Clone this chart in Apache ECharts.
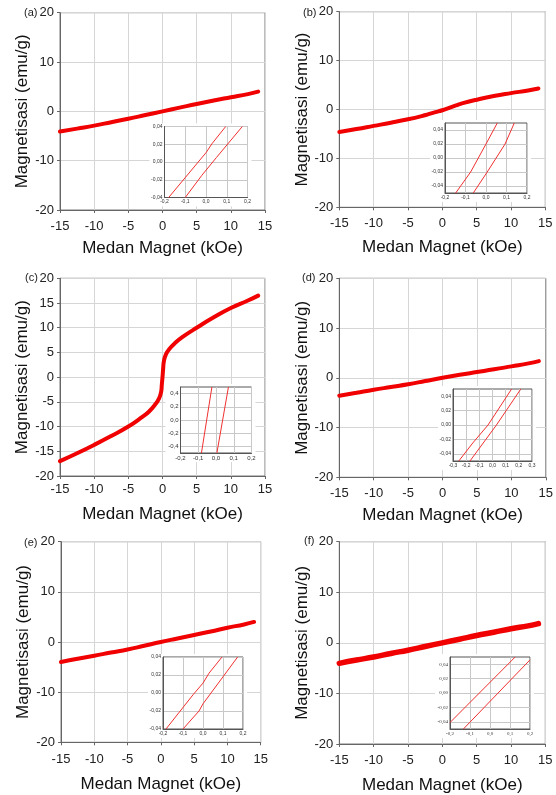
<!DOCTYPE html>
<html><head><meta charset="utf-8">
<script src="https://cdn.jsdelivr.net/npm/echarts@6/dist/echarts.min.js"></script>
<style>html,body{margin:0;padding:0;background:#fff}#c{width:556px;height:795px}</style>
</head><body><div id="c"></div>
<script>
// ---------- DATA ----------
const panelLabels = ['(a)', '(b)', '(c)', '(d)', '(e)', '(f)'];
const xTitle = 'Medan Magnet (kOe)';
const yTitle = 'Magnetisasi (emu/g)';

const H = [-15, -12.5, -10, -7.5, -5, -2.5, 0, 2.5, 5, 7.5, 10, 12.5, 14];
const M_a = [-4.1, -3.5, -2.9, -2.2, -1.5, -0.75, 0, 0.75, 1.5, 2.2, 2.85, 3.5, 4.0];
const H_b = [-15, -12.5, -10, -7.5, -5, -3, -2, -1, 0, 1, 2, 3, 5, 7.5, 10, 12.5, 14];
const M_b = [-4.6, -4.0, -3.35, -2.7, -2.0, -1.35, -0.95, -0.55, -0.15, 0.35, 0.85, 1.3, 2.0, 2.75, 3.35, 3.9, 4.3];
const H_c = [-15, -12.5, -10, -7.5, -5, -3, -2, -1, -0.5, -0.2, -0.1, 0, 0.1, 0.2, 0.5, 1, 2, 3, 5, 7.5, 10, 12.5, 14];
const M_c = [-17, -15.4, -13.7, -11.9, -10, -8.1, -7, -5.4, -4.3, -3, -1.5, 0, 1.8, 3.2, 4.6, 5.7, 7.1, 8.2, 10, 12.1, 14, 15.5, 16.5];
const M_d = [-3.6, -3.0, -2.4, -1.85, -1.3, -0.65, 0, 0.6, 1.15, 1.7, 2.3, 2.9, 3.35];
const M_e = [-4.0, -3.35, -2.75, -2.1, -1.5, -0.75, 0, 0.7, 1.4, 2.1, 2.85, 3.5, 4.0];
const M_f = [-4.05, -3.4, -2.8, -2.1, -1.45, -0.72, 0, 0.72, 1.45, 2.1, 2.8, 3.35, 3.8];

// inset (zoom near origin) branches: [H kOe, M emu/g]
const insetA_left  = [[-0.18, -0.04], [0.0, 0.0105], [0.03, 0.021], [0.095, 0.04]];
const insetA_right = [[-0.1, -0.04], [-0.02, -0.015], [0.05, 0.005], [0.175, 0.04]];
const insetB_left  = [[-0.148, -0.05], [-0.075, -0.02], [0.0, 0.02], [0.055, 0.05]];
const insetB_right = [[-0.062, -0.05], [0.006, -0.02], [0.093, 0.02], [0.138, 0.05]];
const insetC_left  = [[-0.082, -0.5], [-0.023, 0.5]];
const insetC_right = [[0.005, -0.5], [0.07, 0.5]];
const insetD_left  = [[-0.256, -0.05], [-0.15, -0.025], [-0.034, 0.0], [0.145, 0.05]];
const insetD_right = [[-0.171, -0.05], [0.03, 0.0], [0.215, 0.05]];
const insetE_left  = [[-0.185, -0.04], [-0.05, -0.002], [0.0, 0.011], [0.03, 0.022], [0.095, 0.04]];
const insetE_right = [[-0.1, -0.04], [-0.02, -0.02], [0.0, -0.012], [0.1, 0.018], [0.173, 0.04]];
const insetF_left  = [[-0.2, -0.041], [0.126, 0.05]];
const insetF_right = [[-0.133, -0.05], [0.2, 0.046]];

const insetXTicks_02 = [-0.2, -0.1, 0, 0.1, 0.2];
const insetXTicks_03 = [-0.3, -0.2, -0.1, 0, 0.1, 0.2, 0.3];
const insetYTicks_004 = [-0.04, -0.02, 0, 0.02, 0.04];
const insetYTicks_04 = [-0.4, -0.2, 0, 0.2, 0.4];

// ---------- LAYOUT / STYLE ----------
const mainSeries = [
  {h: H, m: M_a}, {h: H_b, m: M_b}, {h: H_c, m: M_c},
  {h: H, m: M_d}, {h: H, m: M_e}, {h: H, m: M_f}
];
const insetSeries = [
  [insetA_left, insetA_right], [insetB_left, insetB_right], [insetC_left, insetC_right],
  [insetD_left, insetD_right], [insetE_left, insetE_right], [insetF_left, insetF_right]
];
const panels = [
  {main: [60, 12.7, 205, 197.3], yInt: 10, lm: 10, ng: 30, lab: [24, 7], lw: 4,
   inset: [164.5, 126.5, 83, 71], ix: [-0.2, 0.2], iy: [-0.04, 0.04, insetYTicks_004, 2], ifs: 5},
  {main: [339.3, 11.7, 206, 195.6], yInt: 10, lm: 10, ng: 32, lab: [303, 7], lw: 4,
   inset: [445, 123, 82, 70], ix: [-0.2, 0.2], iy: [-0.05, 0.05, insetYTicks_004, 2], ifs: 5},
  {main: [60, 278.3, 205, 197.7], yInt: 5, lm: 7, ng: 30, lab: [25, 272], lw: 4,
   inset: [180.5, 387, 71, 66], ix: [-0.2, 0.2], iy: [-0.5, 0.5, insetYTicks_04, 1], ifs: 6},
  {main: [339.3, 278.3, 207.4, 199], yInt: 10, lm: 10, ng: 30, lab: [302, 272], lw: 4,
   inset: [453, 389, 79, 72], ix: [-0.3, 0.3], iy: [-0.05, 0.05, insetYTicks_004, 2], ifs: 5},
  {main: [61, 541.7, 199.7, 200.6], yInt: 10, lm: 11, ng: 34, lab: [24, 537], lw: 4,
   inset: [163, 657, 80, 72], ix: [-0.2, 0.2], iy: [-0.04, 0.04, insetYTicks_004, 2], ifs: 5},
  {main: [339.3, 541.7, 206, 202.3], yInt: 10, lm: 10, ng: 33, lab: [304, 535], lw: 5.5,
   inset: [450, 657, 80, 72], ix: [-0.2, 0.2], iy: [-0.05, 0.05, insetYTicks_004, 2], ifs: 5, serif: true}
];

const FONT = 'Liberation Sans, Arial, sans-serif';
const fmtComma = (d) => (v) => {
  const s = Math.abs(v) < 1e-9 ? (0).toFixed(d) : v.toFixed(d);
  return s.replace('.', ',');
};

const grid = [], xAxis = [], yAxis = [], series = [], title = [], graphic = [];

panels.forEach((p, i) => {
  const [l, t, w, h] = p.main;
  grid.push({left: l, top: t, width: w, height: h, show: true, borderColor: '#7a7a7a', borderWidth: 1, backgroundColor: 'transparent', z: 0});
  xAxis.push({
    type: 'value', gridIndex: grid.length - 1, min: -15, max: 15, interval: 5,
    axisLine: {show: true, onZero: false, lineStyle: {color: '#666', width: 1}},
    axisTick: {show: true, length: 3, lineStyle: {color: '#666'}},
    splitLine: {show: true, lineStyle: {color: '#d6d6d6', width: 1}},
    axisLabel: {fontFamily: FONT, fontSize: 13, color: '#222', margin: p.lm},
    name: xTitle, nameLocation: 'middle', nameGap: p.ng,
    nameTextStyle: {fontFamily: FONT, fontSize: 17, color: '#111'}
  });
  yAxis.push({
    type: 'value', gridIndex: grid.length - 1, min: -20, max: 20, interval: p.yInt,
    axisLine: {show: true, onZero: false, lineStyle: {color: '#666', width: 1}},
    axisTick: {show: true, length: 3, lineStyle: {color: '#666'}},
    splitLine: {show: true, lineStyle: {color: '#d6d6d6', width: 1}},
    axisLabel: {fontFamily: FONT, fontSize: 13, color: '#222', margin: 6},
    name: yTitle, nameLocation: 'middle', nameGap: 28,
    nameTextStyle: {fontFamily: FONT, fontSize: 17, color: '#111'}
  });
  const ms = mainSeries[i];
  series.push({
    type: 'line', xAxisIndex: xAxis.length - 1, yAxisIndex: yAxis.length - 1,
    data: ms.h.map((hv, k) => [hv, ms.m[k]]),
    showSymbol: false, smooth: true, silent: true,
    lineStyle: {color: '#f00000', width: p.lw, cap: 'round', join: 'round'}, z: 3, animation: false
  });
  title.push({text: panelLabels[i], left: p.lab[0], top: p.lab[1], padding: 0,
    textStyle: {fontFamily: FONT, fontSize: 11, fontWeight: 'normal', color: '#222'}});
});

panels.forEach((p, i) => {
  const [l, t, w, h] = p.inset;
  const ifont = p.serif ? 'Liberation Serif, Times New Roman, serif' : FONT;
  graphic.push({type: 'rect', shape: {x: l - 15, y: t - 3, width: w + 19, height: h + 12},
    style: {fill: '#fff'}, z: 7, silent: true});
  grid.push({left: l, top: t, width: w, height: h, show: true, backgroundColor: '#fff', borderColor: '#555', borderWidth: 1, z: 8});
  xAxis.push({
    type: 'value', gridIndex: grid.length - 1, min: p.ix[0], max: p.ix[1], interval: 0.1, z: 9,
    axisLine: {show: true, onZero: false, lineStyle: {color: '#555', width: 1}},
    axisTick: {show: false},
    splitLine: {show: true, lineStyle: {color: '#c8c8c8', width: 1}},
    axisLabel: {fontFamily: ifont, fontSize: p.ifs, color: '#333', margin: 2, formatter: fmtComma(1),
      showMinLabel: true, showMaxLabel: true}
  });
  yAxis.push({
    type: 'value', gridIndex: grid.length - 1, min: p.iy[0], max: p.iy[1], z: 9,
    axisLine: {show: true, onZero: false, lineStyle: {color: '#555', width: 1}},
    axisTick: {show: false, customValues: p.iy[2]},
    splitLine: {show: true, lineStyle: {color: '#c8c8c8', width: 1}},
    axisLabel: {fontFamily: ifont, fontSize: p.ifs, color: '#333', margin: 2, formatter: fmtComma(p.iy[3]),
      customValues: p.iy[2]}
  });
  insetSeries[i].forEach(br => {
    series.push({
      type: 'line', xAxisIndex: xAxis.length - 1, yAxisIndex: yAxis.length - 1,
      data: br, showSymbol: false, silent: true, clip: true,
      lineStyle: {color: '#f03030', width: 1}, z: 10, animation: false
    });
  });
});

const chart = echarts.init(document.getElementById('c'), null, {renderer: 'canvas'});
chart.setOption({animation: false, backgroundColor: '#fff', title, grid, xAxis, yAxis, series, graphic});
</script>
</body></html>
